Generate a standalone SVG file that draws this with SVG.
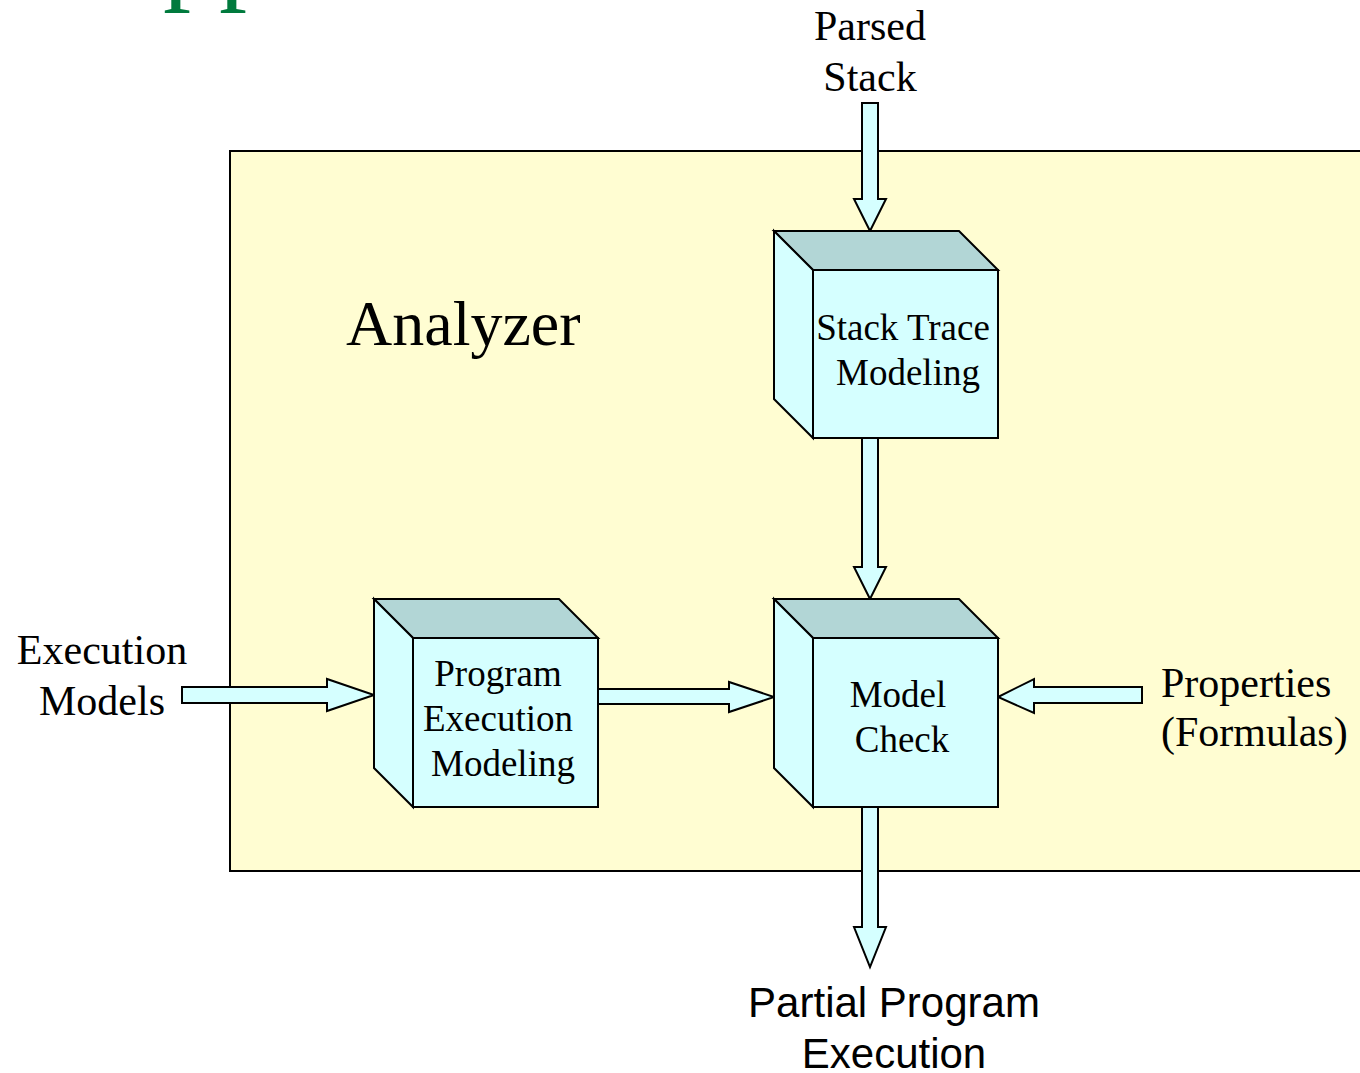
<svg xmlns="http://www.w3.org/2000/svg" width="1360" height="1073" viewBox="0 0 1360 1073">
  <style>
    .serif { font-family: "Liberation Serif", "Times New Roman", serif; fill: #000; }
    .sans { font-family: "Liberation Sans", Arial, sans-serif; fill: #000; }
    .lbl { font-size: 42px; }
    .box { font-size: 37px; }
    .front { fill: #D5FFFF; stroke: #000; stroke-width: 2; stroke-linejoin: miter; }
    .side { fill: #D5FFFF; stroke: #000; stroke-width: 2; }
    .top { fill: #B2D6D6; stroke: #000; stroke-width: 2; }
    .arrow { fill: #D5FFFF; stroke: #000; stroke-width: 2; stroke-linejoin: miter; }
  </style>

  <rect width="1360" height="1073" fill="#FFFFFF"/>

  <!-- title text, clipped at the top edge -->
  <text class="serif" x="163" y="-11" font-size="112" fill="#007A3D" style="fill:#007A3D">pp</text>

  <!-- analyzer panel -->
  <g id="analyzer">
    <rect x="230" y="151" width="1140" height="720" fill="#FFFDD2" stroke="#000" stroke-width="2"/>
    <text class="serif" x="346" y="345" font-size="64">Analyzer</text>
  </g>

  <!-- connectors -->
  <g id="connectors">
    <!-- Parsed Stack -> Stack Trace Modeling -->
    <polygon class="arrow" points="862,103 878,103 878,199 886,199 870,231 854,199 862,199"/>
    <!-- Stack Trace Modeling -> Model Check -->
    <polygon class="arrow" points="862,438 878,438 878,567 886,567 870,599 854,567 862,567"/>
    <!-- Model Check -> Partial Program Execution -->
    <polygon class="arrow" points="862,807 878,807 878,927 886,927 870,967 854,927 862,927"/>
    <!-- Execution Models -> Program Execution Modeling -->
    <polygon class="arrow" points="182,687 327,687 327,679 374,695 327,711 327,703 182,703"/>
    <!-- Program Execution Modeling -> Model Check -->
    <polygon class="arrow" points="598,689 729,689 729,682 774,697 729,712 729,704 598,704"/>
    <!-- Properties -> Model Check -->
    <polygon class="arrow" points="1142,687 1034,687 1034,679 998,697 1034,713 1034,703 1142,703"/>
  </g>

  <!-- Stack Trace Modeling -->
  <g id="stack-trace-modeling">
    <polygon class="top" points="774,231 959,231 998,270 813,270"/>
    <polygon class="side" points="774,231 813,270 813,438 774,399"/>
    <rect class="front" x="813" y="270" width="185" height="168"/>
    <text class="serif box" x="903" y="340" text-anchor="middle">Stack Trace</text>
    <text class="serif box" x="908" y="385" text-anchor="middle">Modeling</text>
  </g>

  <!-- Program Execution Modeling -->
  <g id="program-execution-modeling">
    <polygon class="top" points="374,599 559,599 598,638 413,638"/>
    <polygon class="side" points="374,599 413,638 413,807 374,768"/>
    <rect class="front" x="413" y="638" width="185" height="169"/>
    <text class="serif box" x="498" y="686" text-anchor="middle">Program</text>
    <text class="serif box" x="498" y="731" text-anchor="middle">Execution</text>
    <text class="serif box" x="503" y="776" text-anchor="middle">Modeling</text>
  </g>

  <!-- Model Check -->
  <g id="model-check">
    <polygon class="top" points="774,599 959,599 998,638 813,638"/>
    <polygon class="side" points="774,599 813,638 813,807 774,768"/>
    <rect class="front" x="813" y="638" width="185" height="169"/>
    <text class="serif box" x="898" y="707" text-anchor="middle">Model</text>
    <text class="serif box" x="902" y="752" text-anchor="middle">Check</text>
  </g>

  <!-- external inputs and outputs -->
  <g id="parsed-stack">
    <text class="serif lbl" x="870" y="40" text-anchor="middle">Parsed</text>
    <text class="serif lbl" x="870" y="91" text-anchor="middle">Stack</text>
  </g>
  <g id="execution-models">
    <text class="serif lbl" x="102" y="664" text-anchor="middle">Execution</text>
    <text class="serif lbl" x="102" y="715" text-anchor="middle">Models</text>
  </g>
  <g id="properties">
    <text class="serif lbl" x="1161" y="697">Properties</text>
    <text class="serif lbl" x="1161" y="746">(Formulas)</text>
  </g>
  <g id="partial-program-execution">
    <text class="sans lbl" x="894" y="1017" text-anchor="middle">Partial Program</text>
    <text class="sans lbl" x="894" y="1068" text-anchor="middle">Execution</text>
  </g>
</svg>
